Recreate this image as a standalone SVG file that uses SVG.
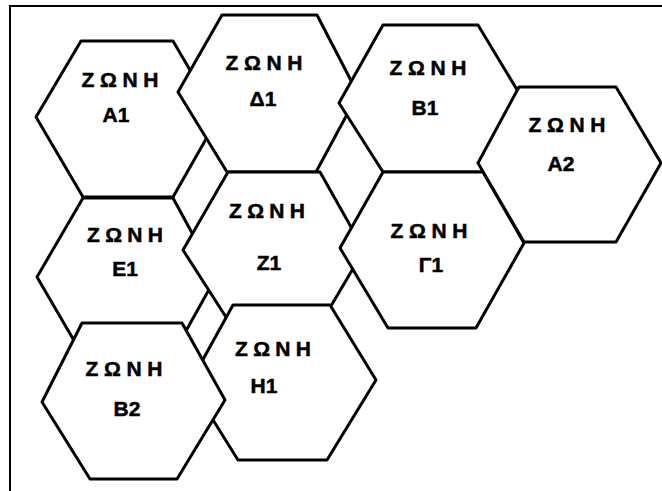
<svg xmlns="http://www.w3.org/2000/svg" width="662" height="491" viewBox="0 0 662 491">
<style>
.hex{fill:#fff;stroke:#000;stroke-width:3;stroke-linejoin:round}
.frame{stroke:#000;stroke-width:2;fill:none}
.t{font-family:"Liberation Sans",Arial,sans-serif;font-weight:bold;font-size:21px;fill:#000;stroke:#000;stroke-width:0.5;text-anchor:middle}
</style>
<rect width="662" height="491" fill="#fff"/>
<g id="frame">
<line class="frame" x1="10" y1="6" x2="662" y2="6"/>
<line class="frame" x1="10" y1="5" x2="10" y2="491"/>
</g>
<g id="zone-A1">
<polygon class="hex" points="81,41 173,41 218,118 173,197 83,197 36,117"/>
<text class="t" x="120" y="87" textLength="77" lengthAdjust="spacing">ΖΩΝΗ</text>
<text class="t" x="116" y="122">Α1</text>
</g>
<g id="zone-E1">
<polygon class="hex" points="83,198 173,198 216,277 172,356 83,356 37,277"/>
<text class="t" x="125" y="242" textLength="76" lengthAdjust="spacing">ΖΩΝΗ</text>
<text class="t" x="125" y="276">Ε1</text>
</g>
<g id="zone-D1">
<polygon class="hex" points="222,15 317,15 358,94 316,172 227,172 178,92"/>
<text class="t" x="264" y="70" textLength="77" lengthAdjust="spacing">ΖΩΝΗ</text>
<text class="t" x="263" y="106">Δ1</text>
</g>
<g id="zone-B1">
<polygon class="hex" points="383,25 478,25 522,98 483,172 383,172 339,103"/>
<text class="t" x="428" y="75" textLength="77" lengthAdjust="spacing">ΖΩΝΗ</text>
<text class="t" x="425" y="115">Β1</text>
</g>
<g id="zone-Z1">
<polygon class="hex" points="228,172 320,172 364,250 318,328 233,328 183,250"/>
<text class="t" x="267" y="218" textLength="76" lengthAdjust="spacing">ΖΩΝΗ</text>
<text class="t" x="269" y="270">Ζ1</text>
</g>
<g id="zone-G1">
<polygon class="hex" points="383,172 483,172 524,243 476,328 388,328 340,248"/>
<text class="t" x="429" y="238" textLength="77" lengthAdjust="spacing">ΖΩΝΗ</text>
<text class="t" x="431" y="272">Γ1</text>
</g>
<g id="zone-A2">
<polygon class="hex" points="519,87 616,87 661,163 616,242 524,242 478,163"/>
<text class="t" x="567" y="132" textLength="77" lengthAdjust="spacing">ΖΩΝΗ</text>
<text class="t" x="561" y="171">Α2</text>
</g>
<g id="zone-H1">
<polygon class="hex" points="233,305 330,305 376,380 327,460 238,460 190,383"/>
<text class="t" x="273" y="356" textLength="76" lengthAdjust="spacing">ΖΩΝΗ</text>
<text class="t" x="264" y="393">Η1</text>
</g>
<g id="zone-B2">
<polygon class="hex" points="82,323 182,323 225,400 177,479 90,479 42,402"/>
<text class="t" x="124" y="376" textLength="77" lengthAdjust="spacing">ΖΩΝΗ</text>
<text class="t" x="127" y="416">Β2</text>
</g>
<g id="connectors"/>
</svg>
